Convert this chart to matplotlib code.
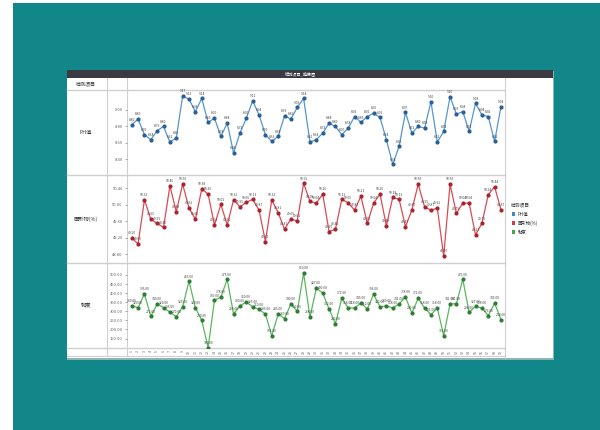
import matplotlib
matplotlib.use("Agg")
import matplotlib.pyplot as plt
from matplotlib.patches import Rectangle

plt.rcParams['font.family'] = ['Noto Sans CJK SC', 'DejaVu Sans']

# ── data ──
samples = [str(i) for i in range(1, 60)]

ph = [8.82, 8.89, 8.70, 8.64, 8.75, 8.80, 8.61, 8.66, 9.17, 9.13,
      8.98, 9.14, 8.85, 8.90, 8.68, 8.84, 8.48, 8.72, 8.90, 9.11,
      8.94, 8.70, 8.62, 8.68, 8.93, 8.89, 9.03, 9.14, 8.61, 8.64,
      8.72, 8.84, 8.80, 8.70, 8.78, 8.92, 8.85, 8.92, 8.96, 8.91,
      8.64, 8.34, 8.56, 8.97, 8.72, 8.80, 8.78, 9.10, 8.61, 8.74,
      9.16, 8.95, 8.98, 8.74, 9.08, 8.94, 8.92, 8.62, 9.04]

solids = [49.20, 49.05, 50.12, 49.65, 49.55, 49.45, 50.46, 49.83, 50.50, 49.92,
          49.65, 50.38, 50.26, 49.51, 50.01, 49.51, 50.12, 49.95, 50.06, 50.13,
          49.87, 49.11, 50.12, 49.81, 49.41, 49.65, 49.61, 50.52, 50.08, 50.04,
          50.26, 49.35, 49.41, 50.13, 50.05, 49.87, 50.21, 49.55, 50.04, 50.26,
          49.49, 50.18, 50.13, 49.47, 49.87, 50.50, 49.95, 49.87, 49.92, 48.76,
          50.50, 49.79, 50.04, 50.04, 49.27, 49.55, 50.24, 50.44, 49.87]

viscosity = [330, 320, 395, 272, 340, 320, 295, 270, 325, 465,
             320, 250, 100, 360, 378, 475, 285, 330, 350, 325,
             310, 285, 165, 285, 260, 340, 300, 510, 268, 427,
             400, 312, 232, 372, 318, 318, 345, 312, 394, 323,
             330, 318, 341, 378, 290, 372, 318, 281, 318, 166,
             341, 341, 476, 294, 327, 318, 276, 345, 254]

ph_ticks = [8.40, 8.60, 8.80, 9.00]
solids_ticks = [48.80, 49.20, 49.60, 50.00, 50.40]
visc_ticks = [150, 200, 250, 300, 350, 400, 450, 500]

W, H = 600, 430
TEAL = "#11878a"
GRID = "#cfcfcf"


def box(x0, y0, x1, y1):
    # pixel rectangle (top-left origin) -> figure fraction
    return [x0 / W, 1 - y1 / H, (x1 - x0) / W, (y1 - y0) / H]


fig = plt.figure(figsize=(6, 4.3), dpi=100)
fig.patch.set_facecolor(TEAL)

# background layer in pixel coords: card, header, table lines, labels, legend
bg = fig.add_axes([0, 0, 1, 1])
bg.set_xlim(0, W)
bg.set_ylim(H, 0)
bg.axis("off")
bg.add_patch(Rectangle((0, 0), 13, H, color="white", lw=0))
bg.add_patch(Rectangle((0, 0), W, 3, color="white", lw=0))
bg.add_patch(Rectangle((67, 71), 487, 288.5, color="#8fb3b4", lw=0))
bg.add_patch(Rectangle((67, 70), 486, 288, color="white", lw=0))
bg.add_patch(Rectangle((67, 70), 486, 8, color="#3a3a42", lw=0))
bg.text(300, 74, "检测项目_趋势图", color="white", fontsize=3,
        ha="center", va="center")

for y in (90, 175, 263, 348):
    bg.plot([67, 505], [y, y], color=GRID, lw=1.0)
bg.plot([67, 505], [356, 356], color=GRID, lw=0.8)
bg.plot([107, 107], [78, 356], color=GRID, lw=0.8)
bg.plot([127, 127], [78, 356], color=GRID, lw=0.8)
bg.plot([505, 505], [78, 358], color=GRID, lw=0.8)

bg.text(86, 84, "检测项目", fontsize=3.6, color="#333", ha="center", va="center")
row_labels = [("PH值", 133), ("固形物(%)", 219), ("黏度", 306)]
for lab, y in row_labels:
    bg.text(86, y, lab, fontsize=3.8, color="#333", ha="center", va="center")

# legend, drawn by hand
bg.text(511, 205, "检测项目", fontsize=3.4, color="#333", ha="left", va="center")
legend_items = [("PH值", "#3f86c6"), ("固形物(%)", "#d23a46"), ("黏度", "#3faa45")]
for k, (lab, col) in enumerate(legend_items):
    y = 214 + 9 * k
    bg.add_patch(Rectangle((511.5, y - 1.6), 3.3, 3.3, color=col, lw=0))
    bg.text(518, y, lab, fontsize=3.2, color="#333", ha="left", va="center")

# ── the three stacked panels ──
panels = [
    (ph, 90, 175, (8.212, 9.242), ph_ticks, "#5596d0", "#2a5f95"),
    (solids, 175, 263, (48.589, 50.722), solids_ticks, "#dc4a55", "#a8232d"),
    (viscosity, 263, 348, (98, 565.6), visc_ticks, "#5bb760", "#2e7d32"),
]

x = list(range(len(samples)))
for n, (vals, top, bottom, ylim, ticks, col, dark) in enumerate(panels):
    ax = fig.add_axes(box(127, top, 505, bottom))
    ax.patch.set_alpha(0)
    for s in ax.spines.values():
        s.set_visible(False)
    ax.plot(x, vals, color=col, lw=0.9, marker="o", ms=2.0,
            mfc=dark, mec=dark, zorder=3)
    for i, v in zip(x, vals):
        ax.annotate(f"{v:.2f}", (i, v), xytext=(0, 2.0),
                    textcoords="offset points", ha="center", va="bottom",
                    fontsize=2.4, color="#444")
    ax.set_xlim(-0.74, len(samples) - 0.37)
    ax.set_ylim(*ylim)
    ax.set_yticks(ticks)
    ax.set_yticklabels([f"{t:.2f}" for t in ticks])
    ax.tick_params(axis="y", length=1.5, width=0.4, pad=1.5,
                   labelsize=3, colors="#666")
    if n == len(panels) - 1:
        ax.set_xticks(x)
        ax.set_xticklabels(samples, rotation=90)
        ax.tick_params(axis="x", length=0, pad=1.5, labelsize=2.6,
                       colors="#666")
    else:
        ax.set_xticks([])

fig.savefig("out.png", dpi=100, facecolor=TEAL)
